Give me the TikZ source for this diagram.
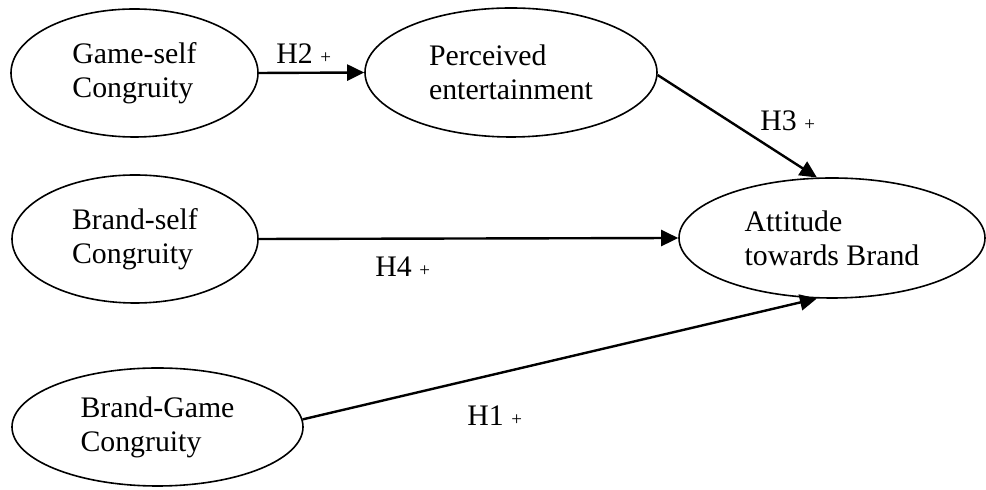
\documentclass[tikz,border=0pt]{standalone}
\usepackage{fontspec}
\setmainfont{Liberation Serif}
\usetikzlibrary{arrows.meta,shapes.geometric}

\newcommand{\hplus}{{\fontsize{9.5}{10}\selectfont +}}

\begin{document}
\begin{tikzpicture}[
    x=0.5pt, y=-0.5pt,
    construct/.style={draw, ellipse, line width=0.8pt, inner sep=0pt, align=left, font=\fontsize{14.9}{17}\selectfont},
    arr/.style={-{Triangle[length=8.5pt,width=8pt]}, line width=1.2pt},
    hyp/.style={anchor=base west, inner sep=0pt, font=\fontsize{14.9}{17}\selectfont}
  ]
    \useasboundingbox (0,0) rectangle (986,490);
    % constructs
    \node[construct, minimum width=123.5pt, minimum height=64pt] (gameself) at (134.5,73) {Game-self\\Congruity};
    \node[construct, minimum width=146pt, minimum height=64.5pt] (enter) at (511,72.5) {Perceived\\entertainment};
    \node[construct, minimum width=123pt, minimum height=64pt] (brandself) at (135,239) {Brand-self\\Congruity};
    \node[construct, minimum width=145.5pt, minimum height=59pt] (brandgame) at (157.5,427) {Brand-Game\\Congruity};
    \node[construct, minimum width=153pt, minimum height=60pt] (attitude) at (832,238) {Attitude\\towards Brand};
    % hypotheses
    \draw[arr] (gameself.east) -- (enter.west);
    \draw[arr] (enter.-1) -- (attitude.104);
    \draw[arr] (brandself.east) -- (attitude.west);
    \draw[arr] (brandgame.3) -- (attitude.256);
    \node[hyp] (h2) at (276,64) {H2 \hplus};
    \node[hyp] (h3) at (760,131) {H3 \hplus};
    \node[hyp] (h4) at (375,277) {H4 \hplus};
    \node[hyp] (h1) at (467,426) {H1 \hplus};
  \end{tikzpicture}
\end{document}
